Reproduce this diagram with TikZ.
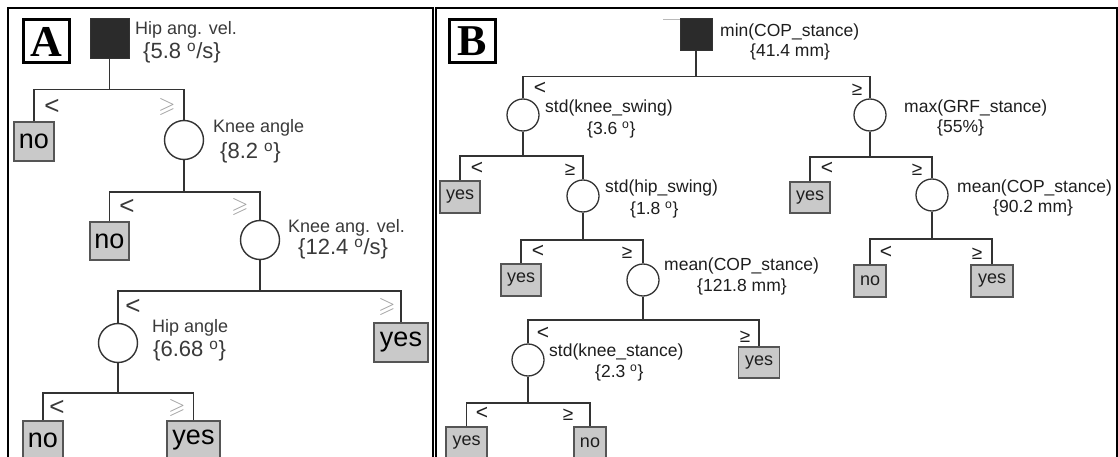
\documentclass[tikz,border=0pt]{standalone}
\usepackage{fontspec}
\setmainfont{Liberation Sans}
\newfontfamily\lblfont{Liberation Serif}
\usepackage{amssymb}
\definecolor{treeline}{HTML}{333333}
\definecolor{boxborder}{HTML}{555555}
\definecolor{leafgray}{HTML}{C9C9C9}
\definecolor{rootfill}{HTML}{2B2B2B}
\definecolor{txtA}{HTML}{3A3A3A}
\definecolor{txtB}{HTML}{1E1E1E}
\definecolor{geA}{HTML}{A0A0A0}
\newcommand\dg{\textsuperscript{o}}
\begin{document}
\begin{tikzpicture}[x=1pt,y=-1pt,
  tline/.style={draw=treeline, line width=1.8pt},
  frame/.style={draw=black, line width=1.7pt},
  leafA/.style={draw=boxborder, line width=1.2pt, fill=leafgray, inner sep=0pt, text=black, font=\fontsize{27}{27}\selectfont},
  leafB/.style={draw=boxborder, line width=1.1pt, fill=leafgray, inner sep=0pt, text=txtB, font=\fontsize{18}{18}\selectfont},
  rootsq/.style={draw=treeline, line width=1pt, fill=rootfill, inner sep=0pt},
  circA/.style={circle, draw=treeline, line width=1.4pt, fill=white, inner sep=0pt, minimum size=39pt},
  circB/.style={circle, draw=treeline, line width=1.3pt, fill=white, inner sep=0pt, minimum size=32pt},
  txA/.style={anchor=west, inner sep=0pt, text=txtA, font=\fontsize{18}{18}\selectfont},
  valA/.style={anchor=west, inner sep=0pt, text=txtA, font=\fontsize{22}{22}\selectfont},
  txB/.style={anchor=west, inner sep=0pt, text=txtB, font=\fontsize{17.5}{17.5}\selectfont},
  ltA/.style={inner sep=0pt, text=txtA, font=\fontsize{26}{26}\selectfont},
  geAs/.style={inner sep=0pt, text=geA, font=\fontsize{22}{22}\selectfont},
  ltB/.style={inner sep=0pt, text=txtB, font=\fontsize{21}{21}\selectfont},
  geB/.style={inner sep=0pt, text=txtB, font=\fontsize{19}{19}\selectfont},
  panelbox/.style={draw=black, line width=3pt, fill=white, inner sep=0pt, minimum width=46pt, minimum height=43pt, font=\lblfont\bfseries\fontsize{44}{44}\selectfont}
]
\useasboundingbox (0,0) rectangle (1118,457);
\fill[white] (0,0) rectangle (1118,457);

% panel frames
\draw[frame] (8,470) -- (8,8) -- (433,8) -- (433,470);
\draw[frame] (436,470) -- (436,8) -- (1117,8) -- (1117,470);

% panel labels
\node[panelbox] (labA) at (46,41.5) {A};
\node[panelbox] (labB) at (472,41.5) {B};

%%%%%%%%%%%%%%%% Panel A
\node[rootsq, minimum width=39pt, minimum height=40pt] (rootA) at (109.5,39) {};
\node[leafA, minimum width=40pt, minimum height=39pt] (noA1) at (34,141.5) {no};
\node[circA] (cA1) at (184,140) {};
\node[leafA, minimum width=39pt, minimum height=38pt] (noA2) at (109.5,241) {no};
\node[circA] (cA2) at (260,240) {};
\node[leafA, minimum width=54pt, minimum height=39pt] (yesA1) at (401,342.5) {yes};
\node[circA] (cA3) at (118,343) {};
\node[leafA, minimum width=40pt, minimum height=39pt] (noA3) at (43,440.5) {no};
\node[leafA, minimum width=53pt, minimum height=39pt] (yesA2) at (193.5,440.5) {yes};

\draw[tline] (rootA.south) -- ++(0,30) coordinate (fA1);
\draw[tline] (noA1.north) |- (fA1) -| (cA1.north);
\draw[tline] (cA1.south) -- ++(0,31.5) coordinate (fA2);
\draw[tline] (noA2.north) |- (fA2) -| (cA2.north);
\draw[tline] (cA2.south) -- ++(0,30.5) coordinate (fA3);
\draw[tline] (cA3.north) |- (fA3) -| (yesA1.north);
\draw[tline] (cA3.south) -- ++(0,29.5) coordinate (fA4);
\draw[tline] (noA3.north) |- (fA4) -| (yesA2.north);

\node[txA] (tA1) at (135,30) {Hip ang. vel.};
\node[valA] (vA1) at (143,53) {\{5.8 \dg/s\}};
\node[txA] (tA2) at (213,128) {Knee angle};
\node[valA] (vA2) at (220,153) {\{8.2 \dg\}};
\node[txA] (tA3) at (288,228) {Knee ang. vel.};
\node[valA] (vA3) at (298,249) {\{12.4 \dg/s\}};
\node[txA] (tA4) at (152,328) {Hip angle};
\node[valA] (vA4) at (153,351) {\{6.68 \dg\}};

\node[ltA] (lA1) at (52,107) {<};
\node[geAs] (gA1) at (167,107) {$\geqslant$};
\node[ltA] (lA2) at (127,207) {<};
\node[geAs] (gA2) at (240,207) {$\geqslant$};
\node[ltA] (lA3) at (133,307) {<};
\node[geAs] (gA3) at (387,307) {$\geqslant$};
\node[ltA] (lA4) at (57,408) {<};
\node[geAs] (gA4) at (177,408) {$\geqslant$};

%%%%%%%%%%%%%%%% Panel B
\draw[gray!55, line width=0.8pt] (663,19.3) -- (681,19.3);
\node[rootsq, minimum width=32pt, minimum height=32pt] (rootB) at (696,35) {};
\node[circB] (cB1) at (523,115) {};
\node[leafB, minimum width=40pt, minimum height=32pt] (yesB1) at (460,197) {yes};
\node[circB] (cB2) at (583,196) {};
\node[leafB, minimum width=40pt, minimum height=32pt] (yesB2) at (521,280) {yes};
\node[circB] (cB3) at (643,280) {};
\node[circB] (cB4) at (528,360) {};
\node[leafB, minimum width=41pt, minimum height=31pt] (yesB3) at (759,362.5) {yes};
\node[leafB, minimum width=41pt, minimum height=32pt] (yesB4) at (466.5,443) {yes};
\node[leafB, minimum width=32pt, minimum height=32pt] (noB1) at (590,443) {no};
\node[circB] (cB5) at (870,115) {};
\node[leafB, minimum width=40pt, minimum height=31pt] (yesB5) at (810,197.5) {yes};
\node[circB] (cB6) at (932,195) {};
\node[leafB, minimum width=32pt, minimum height=32pt] (noB2) at (870,281) {no};
\node[leafB, minimum width=42pt, minimum height=32pt] (yesB6) at (992,281) {yes};

\draw[tline] (rootB.south) -- ++(0,25) coordinate (fB0);
\draw[tline] (cB1.north) |- (fB0) -| (cB5.north);
\draw[tline] (cB1.south) -- ++(0,24) coordinate (fB1);
\draw[tline] (yesB1.north) |- (fB1) -| (cB2.north);
\draw[tline] (cB2.south) -- ++(0,27) coordinate (fB2);
\draw[tline] (yesB2.north) |- (fB2) -| (cB3.north);
\draw[tline] (cB3.south) -- ++(0,23) coordinate (fB3);
\draw[tline] (cB4.north) |- (fB3) -| (yesB3.north);
\draw[tline] (cB4.south) -- ++(0,26) coordinate (fB4);
\draw[tline] (yesB4.north) |- (fB4) -| (noB1.north);
\draw[tline] (cB5.south) -- ++(0,25) coordinate (fB5);
\draw[tline] (yesB5.north) |- (fB5) -| (cB6.north);
\draw[tline] (cB6.south) -- ++(0,27) coordinate (fB6);
\draw[tline] (noB2.north) |- (fB6) -| (yesB6.north);

\node[txB] (tB0) at (720,32) {min(COP\_stance)};
\node[txB] (vB0) at (750,52) {\{41.4 mm\}};
\node[txB] (tB1) at (545,108) {std(knee\_swing)};
\node[txB] (vB1) at (587,130) {\{3.6 \dg\}};
\node[txB] (tB2) at (605,188) {std(hip\_swing)};
\node[txB] (vB2) at (630,210) {\{1.8 \dg\}};
\node[txB] (tB3) at (664,266) {mean(COP\_stance)};
\node[txB] (vB3) at (697,287) {\{121.8 mm\}};
\node[txB] (tB4) at (549,352) {std(knee\_stance)};
\node[txB] (vB4) at (595,373) {\{2.3 \dg\}};
\node[txB] (tB5) at (904,108) {max(GRF\_stance)};
\node[txB] (vB5) at (937,128) {\{55\%\}};
\node[txB] (tB6) at (957,188) {mean(COP\_stance)};
\node[txB] (vB6) at (993,208) {\{90.2 mm\}};

\node[ltB] (lB0) at (540,88) {<};
\node[geB] (gB0) at (857,90) {≥};
\node[ltB] (lB1) at (477,168) {<};
\node[geB] (gB1) at (570,170) {≥};
\node[ltB] (lB2) at (538,251) {<};
\node[geB] (gB2) at (627,253) {≥};
\node[ltB] (lB3) at (543,333) {<};
\node[geB] (gB3) at (745,337) {≥};
\node[ltB] (lB4) at (482,413) {<};
\node[geB] (gB4) at (568,415) {≥};
\node[ltB] (lB5) at (827,168) {<};
\node[geB] (gB5) at (917,170) {≥};
\node[ltB] (lB6) at (886,252) {<};
\node[geB] (gB6) at (977,254) {≥};
\end{tikzpicture}
\end{document}
